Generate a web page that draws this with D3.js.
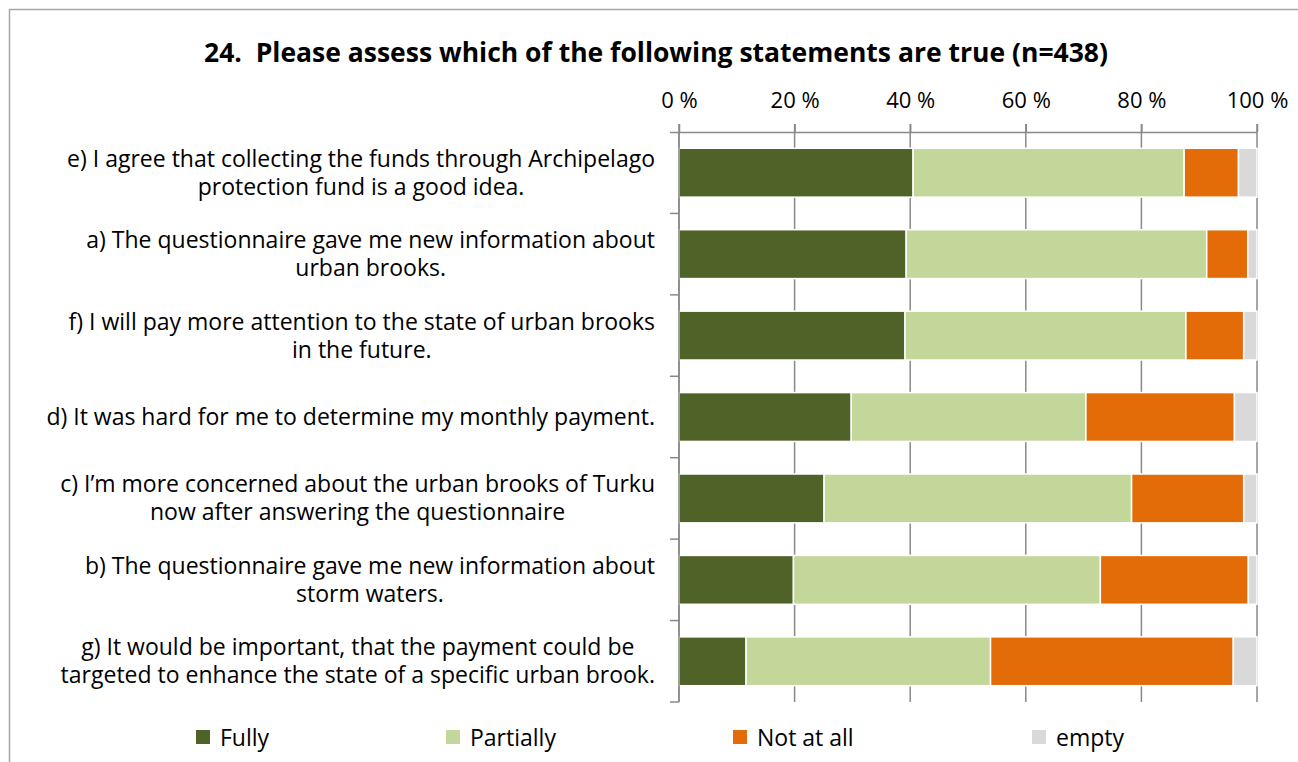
<!DOCTYPE html>
<html>
<head>
<meta charset="utf-8">
<script src="https://cdn.jsdelivr.net/npm/d3@7"></script>
<style>
  html, body { margin: 0; padding: 0; background: #fff; }
  svg { display: block; }
  text { font-family: "Open Sans", Lato, sans-serif; fill: #000; }
</style>
</head>
<body>
<svg id="chart" width="1298" height="762"></svg>
<script>
// Statements, top to bottom, each split into its display lines
const categories = ["e", "a", "f", "d", "c", "b", "g"];
const categoryLines = [
  ["e) I agree that collecting the funds through Archipelago", "protection fund is a good idea."],
  ["a) The questionnaire gave me new information about", "urban brooks."],
  ["f) I will pay more attention to the state of urban brooks", "in the future."],
  ["d) It was hard for me to determine my monthly payment."],
  ["c) I\u2019m more concerned about the urban brooks of Turku", "now after answering the questionnaire"],
  ["b) The questionnaire gave me new information about", "storm waters."],
  ["g) It would be important, that the payment could be", "targeted to enhance the state of a specific urban brook."]
];

// Answer shares (%) per statement
const seriesNames = ["Fully", "Partially", "Not at all", "empty"];
const fully     = [40.5, 39.3, 39.1, 29.8, 25.1, 19.8, 11.6];
const partially = [46.9, 52.0, 48.6, 40.6, 53.2, 53.1, 42.3];
const notAtAll  = [ 9.4,  7.1, 10.0, 25.7, 19.4, 25.6, 42.0];
const empty     = [ 3.2,  1.6,  2.3,  3.9,  2.3,  1.5,  4.1];

const tickValues = [0, 20, 40, 60, 80, 100];
const colors = ["#4f6228", "#c4d79b", "#e36c09", "#d9d9d9"];

const title = "24.  Please assess which of the following statements are true (n=438)";

const svg = d3.select("#chart");
const W = 1298, H = 762;
const gridColor = "#898989";

// chart frame
svg.append("path")
  .attr("d", `M9.5,${H} V9.5 H${W}`)
  .attr("fill", "none")
  .attr("stroke", "#a6a6a6")
  .attr("stroke-width", 1.5);

svg.append("text")
  .attr("x", 656).attr("y", 62)
  .attr("text-anchor", "middle")
  .style("font-size", "26.5px").style("font-weight", "700")
  .style("white-space", "pre")
  .text(title);

const plot = { left: 679, right: 1257, top: 132, bottom: 702 };

const x = d3.scaleLinear().domain([0, 100]).range([plot.left, plot.right]);
const y = d3.scaleBand().domain(categories).range([plot.top, plot.bottom]).paddingInner(0.4).paddingOuter(0.2);

// stack the series
const rows = categories.map((c, i) => ({
  cat: c, "Fully": fully[i], "Partially": partially[i], "Not at all": notAtAll[i], "empty": empty[i]
}));
const stacked = d3.stack().keys(seriesNames)(rows);

// vertical gridlines
svg.append("g").selectAll("line").data(tickValues).join("line")
  .attr("x1", d => x(d)).attr("x2", d => x(d))
  .attr("y1", plot.top - 8).attr("y2", plot.bottom)
  .attr("stroke", gridColor).attr("stroke-width", 1.5);

// bars
svg.append("g").selectAll("g").data(stacked).join("g")
  .attr("fill", (d, i) => colors[i])
  .selectAll("rect").data(d => d).join("rect")
  .attr("x", d => x(d[0]))
  .attr("width", d => x(d[1]) - x(d[0]))
  .attr("y", d => y(d.data.cat))
  .attr("height", y.bandwidth())
  .attr("stroke", "#fff").attr("stroke-width", 1.5);

// top value axis
const xAxis = svg.append("g")
  .attr("transform", `translate(0,${plot.top})`)
  .call(d3.axisTop(x).tickValues(tickValues).tickFormat(d => d + " %").tickSize(8).tickPadding(16));
xAxis.select(".domain").attr("stroke", gridColor).attr("stroke-width", 1.5)
  .attr("d", `M${plot.left - 9},0.5H${plot.right}`);
xAxis.selectAll(".tick line").attr("stroke", gridColor).attr("stroke-width", 1.5);
xAxis.selectAll(".tick text").style("font-size", "22px").style("font-family", "'Open Sans', sans-serif").attr("fill", "#000");

// left category axis with tick marks at band boundaries
const step = y.step();
const boundaries = d3.range(categories.length + 1).map(i => plot.top + i * step);
svg.append("line")
  .attr("x1", plot.left).attr("x2", plot.left)
  .attr("y1", plot.top).attr("y2", plot.bottom)
  .attr("stroke", gridColor).attr("stroke-width", 1.5);
svg.append("g").selectAll("line").data(boundaries.slice(1)).join("line")
  .attr("x1", plot.left - 9).attr("x2", plot.left)
  .attr("y1", d => d).attr("y2", d => d)
  .attr("stroke", gridColor).attr("stroke-width", 1.5);

// category labels: block right-aligned, lines centred within the block
const labelRight = 655;
const lineH = 28;
const labels = svg.append("g").style("font-size", "23px");
categoryLines.forEach((lines, i) => {
  const cy = y(categories[i]) + y.bandwidth() / 2;
  const t = labels.append("text").attr("text-anchor", "middle");
  lines.forEach((ln, j) => {
    t.append("tspan").attr("data-line", j).text(ln);
  });
  let maxW = 0;
  t.selectAll("tspan").each(function () { maxW = Math.max(maxW, this.getComputedTextLength()); });
  const cx = labelRight - maxW / 2;
  const y0 = cy - (lines.length - 1) * lineH / 2 + 8;
  t.selectAll("tspan").attr("x", cx).attr("y", (d, j, n) => y0 + (+n[j].getAttribute("data-line")) * lineH);
});

// legend
const legendX = [196, 446, 733, 1032];
const legend = svg.append("g").attr("transform", "translate(0,737)");
seriesNames.forEach((name, i) => {
  legend.append("rect").attr("x", legendX[i]).attr("y", -7).attr("width", 14).attr("height", 14).attr("fill", colors[i]);
  legend.append("text").attr("x", legendX[i] + 24).attr("y", 9).style("font-size", "23px").text(name);
});
</script>
</body>
</html>
